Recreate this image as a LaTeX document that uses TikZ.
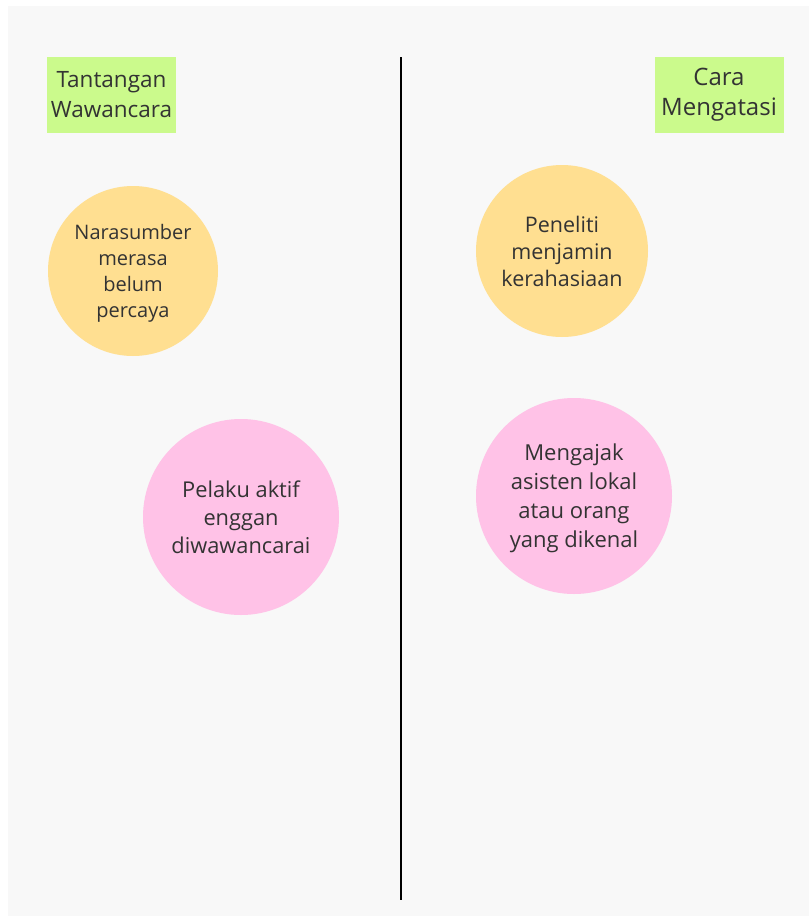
\documentclass[tikz,border=0pt]{standalone}
\usepackage{fontspec}
\setmainfont{Open Sans}
\definecolor{panelbg}{HTML}{F8F8F8}
\definecolor{tagfill}{HTML}{CBFA8C}
\definecolor{sunfill}{HTML}{FFDF91}
\definecolor{rosefill}{HTML}{FFC2E7}
\definecolor{inktext}{HTML}{333333}
\begin{document}
\begin{tikzpicture}[x=1pt,y=-1pt,
  tag/.style={fill=tagfill, draw=none, minimum width=129pt, minimum height=76pt,
    inner sep=0pt, align=center, text=inktext},
  bubble/.style={circle, draw=none, inner sep=0pt, align=center, text=inktext},
  sun/.style={bubble, fill=sunfill},
  rose/.style={bubble, fill=rosefill}]
\useasboundingbox (0,0) rectangle (809,916);
\fill[white] (0,0) rectangle (809,916);
\fill[panelbg] (8,6) rectangle (809,916);

% column headers
\node[tag, font=\fontsize{22.5}{30}\selectfont] (hleft) at (111.5,95) {Tantangan\\Wawancara};
\node[tag, font=\fontsize{24}{30}\selectfont] (hright) at (719,95) {Cara\\Mengatasi};

% divider
\coordinate (divtop) at (401,57);
\coordinate (divbot) at (401,900);
\draw[line width=2pt, black] (divtop) -- (divbot);

% challenges
\node[sun, minimum size=170pt, font=\fontsize{20}{26}\selectfont] (c1) at (133,271)
  {\rule{0pt}{20pt}Narasumber\\merasa\\belum\\percaya};
\node[rose, minimum size=196pt, font=\fontsize{21.8}{28}\selectfont] (c2) at (241,517)
  {Pelaku aktif\\enggan\\diwawancarai};

% solutions
\node[sun, minimum size=172pt, font=\fontsize{21.5}{27}\selectfont] (s1) at (562,251)
  {Peneliti\\menjamin\\kerahasiaan};
\node[rose, minimum size=196pt, font=\fontsize{22}{29}\selectfont] (s2) at (574,496)
  {\rule{0pt}{22pt}Mengajak\\asisten lokal\\atau orang\\yang dikenal};
\end{tikzpicture}
\end{document}
